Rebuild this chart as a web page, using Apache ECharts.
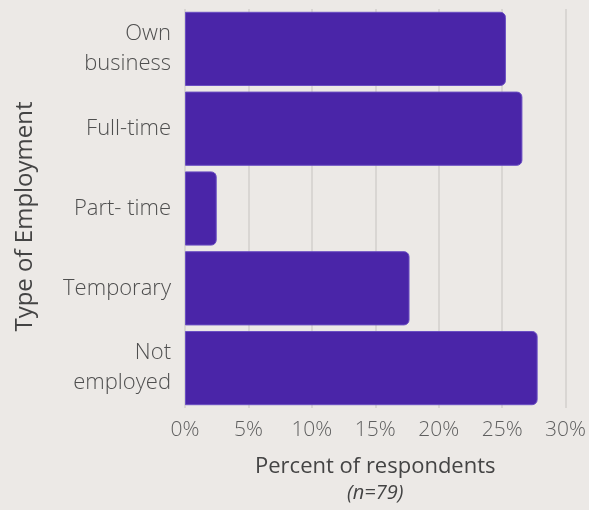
<!DOCTYPE html>
<html>
<head>
<meta charset="utf-8">
<script src="https://cdn.jsdelivr.net/npm/echarts@6/dist/echarts.min.js"></script>
<style>
html, body { margin: 0; padding: 0; background: #ECE9E6; }
#chart { width: 589px; height: 510px; }
</style>
</head>
<body>
<div id="chart"></div>
<script>
// type of employment, percent of respondents (n=79)
let categories = ['Own\nbusiness', 'Full-time', 'Part- time', 'Temporary', 'Not\nemployed'];
let values = [25.3, 26.6, 2.5, 17.7, 27.8];
let ticks = [0, 5, 10, 15, 20, 25, 30];

let myc = echarts.init(document.getElementById('chart'));
let font = '"Open Sans", sans-serif';

let options = {
    backgroundColor: '#ECE9E6',
    animation: false,
    grid: {
        left: 185,
        right: 20,
        top: 9,
        bottom: 102
    },
    xAxis: {
        type: 'value',
        min: ticks[0],
        max: ticks[ticks.length - 1],
        interval: 5,
        name: '{a|Percent of respondents}\n{b|(n=79)}',
        nameLocation: 'middle',
        nameGap: 45,
        nameTextStyle: {
            rich: {
                a: { fontFamily: font, fontSize: 22, color: '#444', lineHeight: 28 },
                b: { fontFamily: font, fontSize: 20, fontStyle: 'italic', color: '#444', lineHeight: 24 }
            }
        },
        axisLine: { show: false },
        axisTick: { show: false },
        splitLine: { lineStyle: { color: '#D3CFCC', width: 1.5 } },
        axisLabel: {
            formatter: '{value}%',
            fontFamily: font,
            fontWeight: 300,
            fontSize: 21,
            color: '#5f5f5f',
            margin: 12
        }
    },
    yAxis: {
        type: 'category',
        inverse: true,
        data: categories,
        name: 'Type of Employment',
        nameLocation: 'middle',
        nameGap: 148,
        nameTextStyle: { fontFamily: font, fontSize: 24, color: '#444', padding: [0, 16, 0, 0] },
        axisLine: { show: false },
        axisTick: { show: false },
        axisLabel: {
            fontFamily: font,
            fontWeight: 300,
            fontSize: 22,
            lineHeight: 30,
            color: '#4f4f4f',
            margin: 14
        }
    },
    series: [
        {
            type: 'bar',
            data: values,
            barCategoryGap: '7%',
            itemStyle: {
                color: '#4A25A8',
                borderColor: '#6A4EC2',
                borderWidth: 1,
                borderRadius: [0, 5, 5, 0]
            }
        }
    ]
};
myc.setOption(options);
</script>
</body>
</html>
